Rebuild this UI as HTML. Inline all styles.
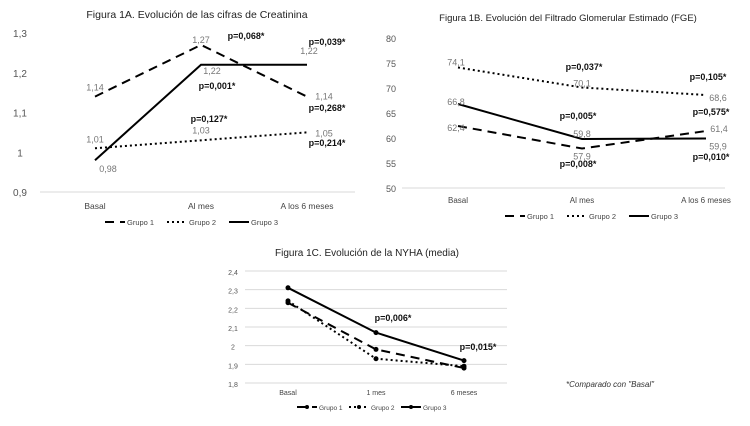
<!DOCTYPE html>
<html><head><meta charset="utf-8">
<style>
body{margin:0;background:#fff;width:750px;height:421px;overflow:hidden;font-family:"Liberation Sans",sans-serif}
svg text{font-family:"Liberation Sans",sans-serif}
</style></head>
<body>
<svg id="svg" width="750" height="421" viewBox="0 0 750 421" xmlns="http://www.w3.org/2000/svg"></svg>
<script>
// Chart A data
const catsA=["Basal","Al mes","A los 6 meses"];
const a1=[1.14,1.27,1.14], a2=[1.01,1.03,1.05], a3=[0.98,1.22,1.22];
const ticksA=[0.9,1,1.1,1.2,1.3];
const ticksALabels=["0,9","1","1,1","1,2","1,3"];
// Chart B data
const catsB=["Basal","Al mes","A los 6 meses"];
const b1=[62.4,57.9,61.4], b2=[74.1,70.1,68.6], b3=[66.8,59.8,59.9];
const ticksB=[50,55,60,65,70,75,80];
// Chart C data
const catsC=["Basal","1 mes","6 meses"];
const c1=[2.23,1.98,1.88], c2=[2.24,1.93,1.89], c3=[2.31,2.07,1.92];
const ticksC=[1.8,1.9,2,2.1,2.2,2.3,2.4];
const ticksCLabels=["1,8","1,9","2","2,1","2,2","2,3","2,4"];

const svg=document.getElementById('svg');
const NS="http://www.w3.org/2000/svg";
function mk(tag,attrs,parent){const e=document.createElementNS(NS,tag);for(const k in attrs)e.setAttribute(k,attrs[k]);(parent||svg).appendChild(e);return e;}
function txt(x,y,s,size,fill,anchor,weight,parent,style){const t=mk('text',{x:x,y:y,'font-size':size,fill:fill,'text-anchor':anchor||'middle','font-weight':weight||'normal'},parent);if(style)t.setAttribute('font-style',style);t.textContent=s;return t;}
const fmt=v=>String(v).replace('.',',');
const dashes=["9,6","2,3","none"];

function chart(cfg){
  const g=mk('g',{});
  
  
  const y=v=>cfg.y0+(v-cfg.vmin)/(cfg.vmax-cfg.vmin)*(cfg.y1-cfg.y0);
  const x=i=>cfg.xs[0]+i*(cfg.xs[1]-cfg.xs[0]);
  const t=txt(cfg.titleX,cfg.titleY,cfg.title,cfg.tsize,'#222','middle','normal',g);
  
  cfg.ticks.forEach((v,i)=>{
    const l=txt(cfg.ylabX,y(v)+4,cfg.tickLabels?cfg.tickLabels[i]:fmt(v),cfg.ysize,'#555','middle','normal',g);
    
    if(cfg.grid||i===0){const gl=mk('line',{x1:cfg.ax0,x2:cfg.ax1,y1:y(v),y2:y(v),stroke:'#d9d9d9','stroke-width':1},g);
      }
  });
  cfg.cats.forEach((c,i)=>{const l=txt(x(i),cfg.xlabY,c,cfg.xsize,'#444','middle','normal',g);
    });
  cfg.series.forEach((s,si)=>{
    const p=mk('polyline',{points:s.map((v,i)=>x(i)+','+y(v)).join(' '),fill:'none',stroke:'#000','stroke-width':2},g);
    if(dashes[si]!=='none')p.setAttribute('stroke-dasharray',dashes[si]);
    
    if(cfg.markers)s.forEach((v,i)=>{const m=mk('circle',{cx:x(i),cy:y(v),r:2.5,fill:'#000'},g);
      });
    if(cfg.valOff)s.forEach((v,i)=>{const o=cfg.valOff[si][i];const l=txt(x(i)+o[0],y(v)+o[1],fmt(v),9,'#777','middle','normal',g);
      });
  });
  cfg.pvals.forEach(p=>{const l=txt(p[0],p[1],p[2],9,'#111','middle','bold',g);
    });
  let lx=cfg.legX;
  ["Grupo 1","Grupo 2","Grupo 3"].forEach((n,i)=>{
    const e=mk('g',{},g);
    const ln=mk('line',{x1:lx,x2:lx+20,y1:cfg.legY,y2:cfg.legY,stroke:'#000','stroke-width':2},e);
    if(dashes[i]!=='none')ln.setAttribute('stroke-dasharray',dashes[i]);
    if(cfg.markers)mk('circle',{cx:lx+10,cy:cfg.legY,r:2,fill:'#000'},e);
    txt(lx+22,cfg.legY+3,n,cfg.lsize,'#444','start','normal',e);
    lx+=cfg.legStep;
  });
}
chart({name:'chart-creatinina',title:'Figura 1A. Evolución de las cifras de Creatinina',titleX:197,titleY:18,tsize:10.5,
  vmin:0.9,vmax:1.3,y0:192,y1:33,xs:[95,201],ax0:40,ax1:355,ticks:ticksA,tickLabels:ticksALabels,ylabX:20,ysize:10,grid:false,
  cats:catsA,xlabY:209,xsize:8.5,series:[a1,a2,a3],
  valOff:[[[0,-6],[0,-2],[17,3]],[[0,-6],[0,-7],[17,4]],[[13,12],[11,9],[2,-11]]],
  pvals:[[246,39,'p=0,068*'],[327,45,'p=0,039*'],[217,89,'p=0,001*'],[327,111,'p=0,268*'],[209,122,'p=0,127*'],[327,146,'p=0,214*']],
  legX:105,legY:222,legStep:62,lsize:7.5});
chart({name:'chart-fge',title:'Figura 1B. Evolución del Filtrado Glomerular Estimado (FGE)',titleX:568,titleY:21,tsize:9.5,
  vmin:50,vmax:80,y0:188,y1:38,xs:[458,582],ax0:402,ax1:725,ticks:ticksB,ylabX:391,ysize:9,grid:false,
  cats:catsB,xlabY:203,xsize:8,series:[b1,b2,b3],
  valOff:[[[-2,5],[0,11],[13,1]],[[-2,-2],[0,-1],[12,6]],[[-2,1],[0,-2],[12,11]]],
  pvals:[[584,70,'p=0,037*'],[708,80,'p=0,105*'],[578,119,'p=0,005*'],[711,115,'p=0,575*'],[578,167,'p=0,008*'],[711,160,'p=0,010*']],
  legX:505,legY:216,legStep:62,lsize:7.5});
chart({name:'chart-nyha',title:'Figura 1C. Evolución de la NYHA (media)',titleX:367,titleY:256,tsize:10,
  vmin:1.8,vmax:2.4,y0:383,y1:271,xs:[288,376],ax0:245,ax1:507,ticks:ticksC,tickLabels:ticksCLabels,ylabX:233,ysize:7,grid:true,
  cats:catsC,xlabY:395,xsize:7,series:[c1,c2,c3],markers:true,valOff:null,
  pvals:[[393,321,'p=0,006*'],[478,350,'p=0,015*']],
  legX:297,legY:407,legStep:52,lsize:6.5});
const note=txt(610,387,'*Comparado con "Basal"',8,'#333','middle','normal',svg,'italic');


</script>
</body></html>
